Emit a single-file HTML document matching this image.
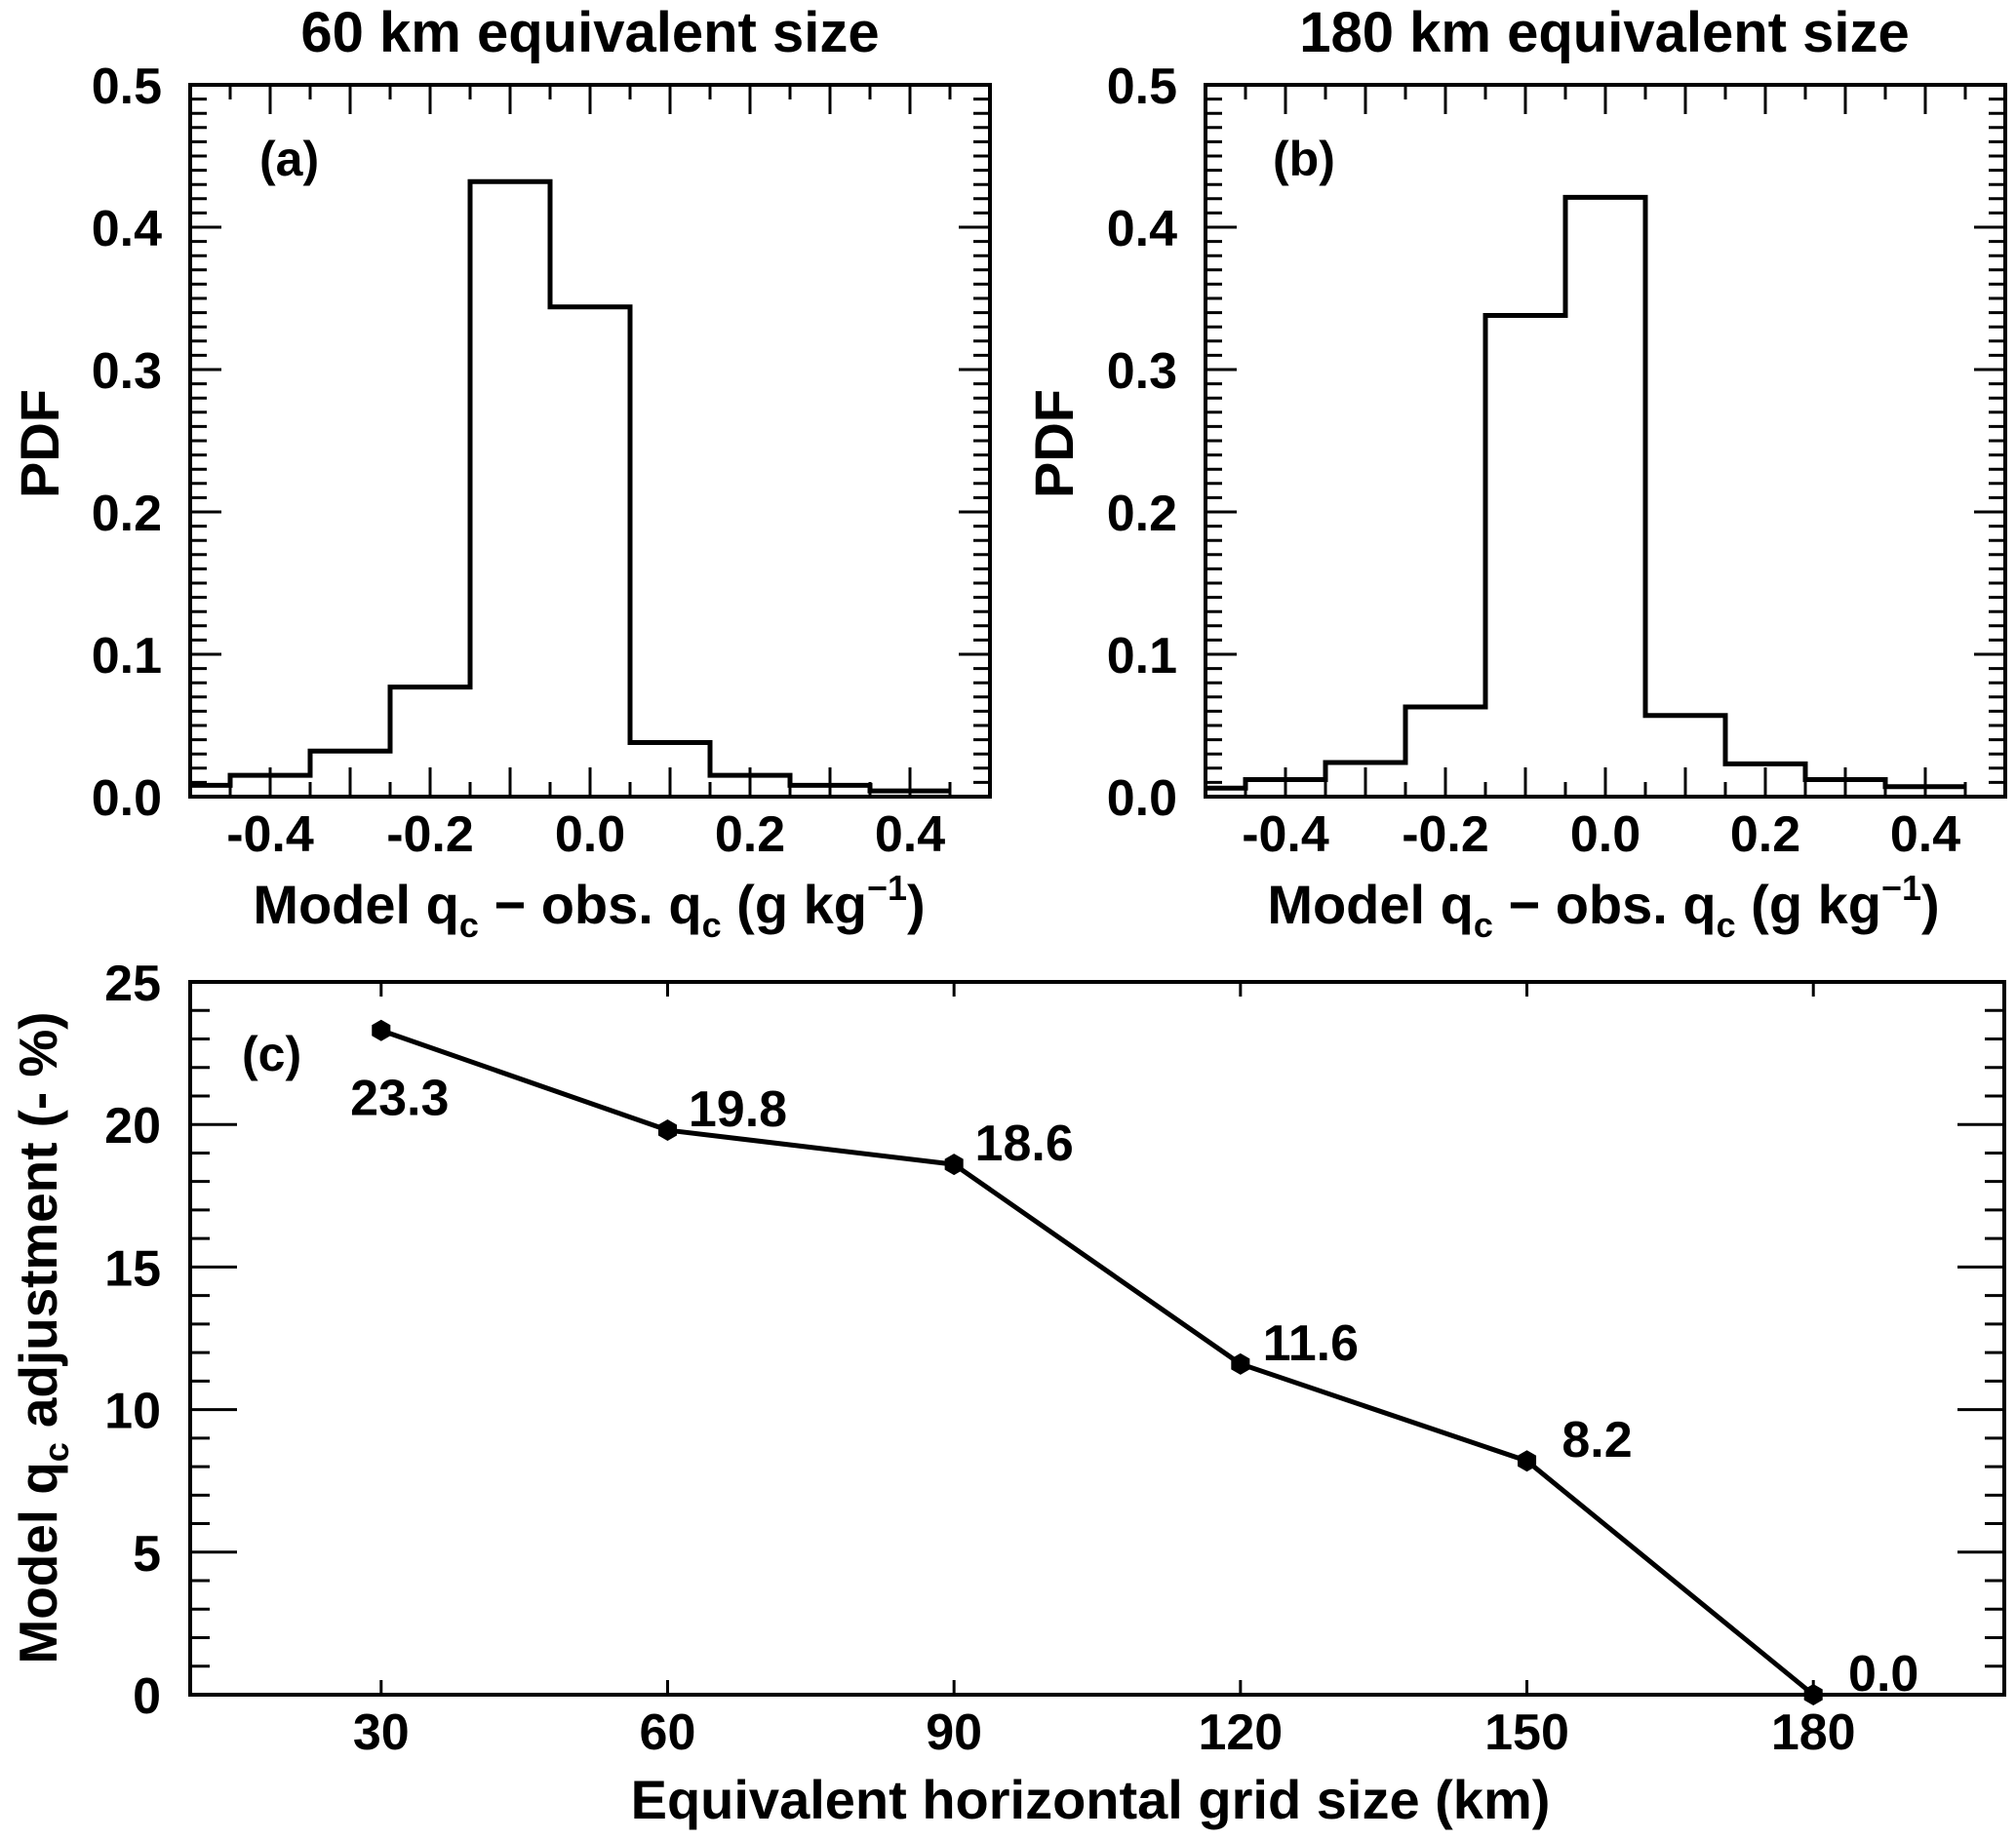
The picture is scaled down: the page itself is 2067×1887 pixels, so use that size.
<!DOCTYPE html>
<html><head><meta charset="utf-8"><style>
html,body{margin:0;padding:0;background:#fff;}
svg{display:block;}
text{font-family:"Liberation Sans",Arial,sans-serif;font-weight:bold;fill:#000;}
</style></head><body>
<svg id="fig" width="2067" height="1887" viewBox="0 0 2067 1887" xmlns="http://www.w3.org/2000/svg">
<text x="605" y="53" font-size="58" text-anchor="middle">60 km equivalent size</text>
<text x="1645" y="53" font-size="58" text-anchor="middle">180 km equivalent size</text>
<text x="266" y="180" font-size="50">(a)</text>
<text x="1305" y="180" font-size="50">(b)</text>
<text x="248" y="1098" font-size="50">(c)</text>
<text transform="translate(60,455) rotate(-90)" font-size="56" text-anchor="middle">PDF</text>
<text transform="translate(1100,455) rotate(-90)" font-size="56" text-anchor="middle">PDF</text>
<text x="604" y="947" font-size="56" text-anchor="middle">Model q<tspan font-size="36" dy="14">c</tspan><tspan dy="-14"> − obs. q</tspan><tspan font-size="36" dy="14">c</tspan><tspan dy="-14"> (g kg</tspan><tspan font-size="36" dy="-24">−1</tspan><tspan dy="24">)</tspan></text>
<text x="1644" y="947" font-size="56" text-anchor="middle">Model q<tspan font-size="36" dy="14">c</tspan><tspan dy="-14"> − obs. q</tspan><tspan font-size="36" dy="14">c</tspan><tspan dy="-14"> (g kg</tspan><tspan font-size="36" dy="-24">−1</tspan><tspan dy="24">)</tspan></text>
<text x="1118" y="1865" font-size="56" text-anchor="middle">Equivalent horizontal grid size (km)</text>
<text transform="translate(58,1372) rotate(-90)" font-size="55" text-anchor="middle" textLength="669" lengthAdjust="spacing">Model q<tspan font-size="36" dy="12">c</tspan><tspan dy="-12"> adjustment  (- %)</tspan></text>
</svg>
<script>
// Panel (a) histogram: 60 km
const histCenters = [-0.5, -0.4, -0.3, -0.2, -0.1, 0.0, 0.1, 0.2, 0.3, 0.4];
const histA = [0.008, 0.015, 0.032, 0.077, 0.432, 0.344, 0.038, 0.015, 0.008, 0.004];
// Panel (b) histogram: 180 km
const histB = [0.006, 0.012, 0.024, 0.063, 0.338, 0.421, 0.057, 0.023, 0.012, 0.007];
const histXTicks = [-0.4, -0.2, 0.0, 0.2, 0.4];
const histYTicks = [0.0, 0.1, 0.2, 0.3, 0.4, 0.5];
// Panel (c) line
const gridSizes = [30, 60, 90, 120, 150, 180];
const adjustments = [23.3, 19.8, 18.6, 11.6, 8.2, 0.0];
const adjLabels = ["23.3", "19.8", "18.6", "11.6", "8.2", "0.0"];
const lineXTicks = [30, 60, 90, 120, 150, 180];
const lineYTicks = [0, 5, 10, 15, 20, 25];

const NS = "http://www.w3.org/2000/svg";
const svg = document.getElementById("fig");
function mk(tag, attrs, parent) {
  const e = document.createElementNS(NS, tag);
  for (const k in attrs) e.setAttribute(k, attrs[k]);
  (parent || svg).appendChild(e);
  return e;
}
function line(g, x1, y1, x2, y2, w) {
  const l = mk("line", {x1: x1, y1: y1, x2: x2, y2: y2, stroke: "#000", "stroke-width": w}, g);
  
  
  return l;
}
function scale(d0, d1, r0, r1) { return v => r0 + (v - d0) / (d1 - d0) * (r1 - r0); }

function histPanel(name, L, vals) {
  const R = L + 820, T = 87, B = 817;
  const x = scale(-0.5, 0.5, L, R), y = scale(0, 0.5, B, T);
  const g = mk("g", {});
  
  
  // minor x ticks every 0.05, major every 0.1
  for (let i = -10; i <= 10; i++) {
    const v = i * 0.05, xx = x(v);
    const len = (i % 2 === 0) ? 30 : 15;
    if (i > -10 && i < 10) { line(g, xx, B, xx, B - len, 3); line(g, xx, T, xx, T + len, 3); }
  }
  for (let i = 1; i < 50; i++) {
    const yy = y(i * 0.01), len = (i % 10 === 0) ? 32 : 17;
    line(g, L, yy, L + len, yy, 3); line(g, R, yy, R - len, yy, 3);
  }
  const fr = mk("rect", {x: L, y: T, width: R - L, height: B - T, fill: "none", stroke: "#000", "stroke-width": 4}, g);
  
  
  histXTicks.forEach(v => {
    const t = mk("text", {x: x(v), y: B + 56, "font-size": 52, "text-anchor": "middle"}, g);
    
    
    t.textContent = v.toFixed(1);
  });
  histYTicks.forEach(v => {
    const t = mk("text", {x: L - 29, y: y(v) + 19, "font-size": 52, "text-anchor": "end"}, g);
    
    
    t.textContent = v.toFixed(1);
  });
  let d = "";
  histCenters.forEach((c, i) => {
    const x0 = Math.max(c - 0.05, -0.5), x1 = c + 0.05;
    if (i === 0) d += "M" + x(x0) + " " + y(vals[i]);
    else d += " V" + y(vals[i]);
    d += " H" + x(x1);
  });
  const p = mk("path", {d: d, fill: "none", stroke: "#000", "stroke-width": 5, "stroke-linejoin": "miter"}, g);
  
  
}
histPanel("panel-a", 195, histA);
histPanel("panel-b", 1236, histB);

// Panel (c)
(function () {
  const L = 195, R = 2055, T = 1007, B = 1738;
  const x = scale(10, 200, L, R), y = scale(0, 25, B, T);
  const g = mk("g", {});
  
  
  lineXTicks.forEach(v => {
    line(g, x(v), B, x(v), B - 15, 3); line(g, x(v), T, x(v), T + 15, 3);
    const t = mk("text", {x: x(v), y: B + 56, "font-size": 52, "text-anchor": "middle"}, g);
    
    
    t.textContent = v;
  });
  for (let i = 1; i < 25; i++) {
    const len = (i % 5 === 0) ? 48 : 20;
    line(g, L, y(i), L + len, y(i), 3); line(g, R, y(i), R - len, y(i), 3);
  }
  lineYTicks.forEach(v => {
    const t = mk("text", {x: L - 30, y: y(v) + 19, "font-size": 52, "text-anchor": "end"}, g);
    
    
    t.textContent = v;
  });
  const fr = mk("rect", {x: L, y: T, width: R - L, height: B - T, fill: "none", stroke: "#000", "stroke-width": 4}, g);
  
  
  const pts = gridSizes.map((v, i) => x(v) + "," + y(adjustments[i])).join(" ");
  const pl = mk("polyline", {points: pts, fill: "none", stroke: "#000", "stroke-width": 5, "stroke-linejoin": "round"}, g);
  
  
  gridSizes.forEach((v, i) => {
    const cx = x(v), cy = y(adjustments[i]);
    let hp = "";
    for (let k = 0; k < 6; k++) {
      const a = Math.PI / 2 + k * Math.PI / 3;
      hp += (cx + 11 * Math.cos(a)) + "," + (cy + 11 * Math.sin(a)) + " ";
    }
    const m = mk("polygon", {points: hp, fill: "#000"}, g);
    
    
    const first = i === 0;
    const t = mk("text", {x: cx + (first ? 19 : 72), y: cy + (first ? 87 : -4), "font-size": 52, "text-anchor": "middle"}, g);
    
    
    t.textContent = adjLabels[i];
  });
})();
</script>
</body></html>
